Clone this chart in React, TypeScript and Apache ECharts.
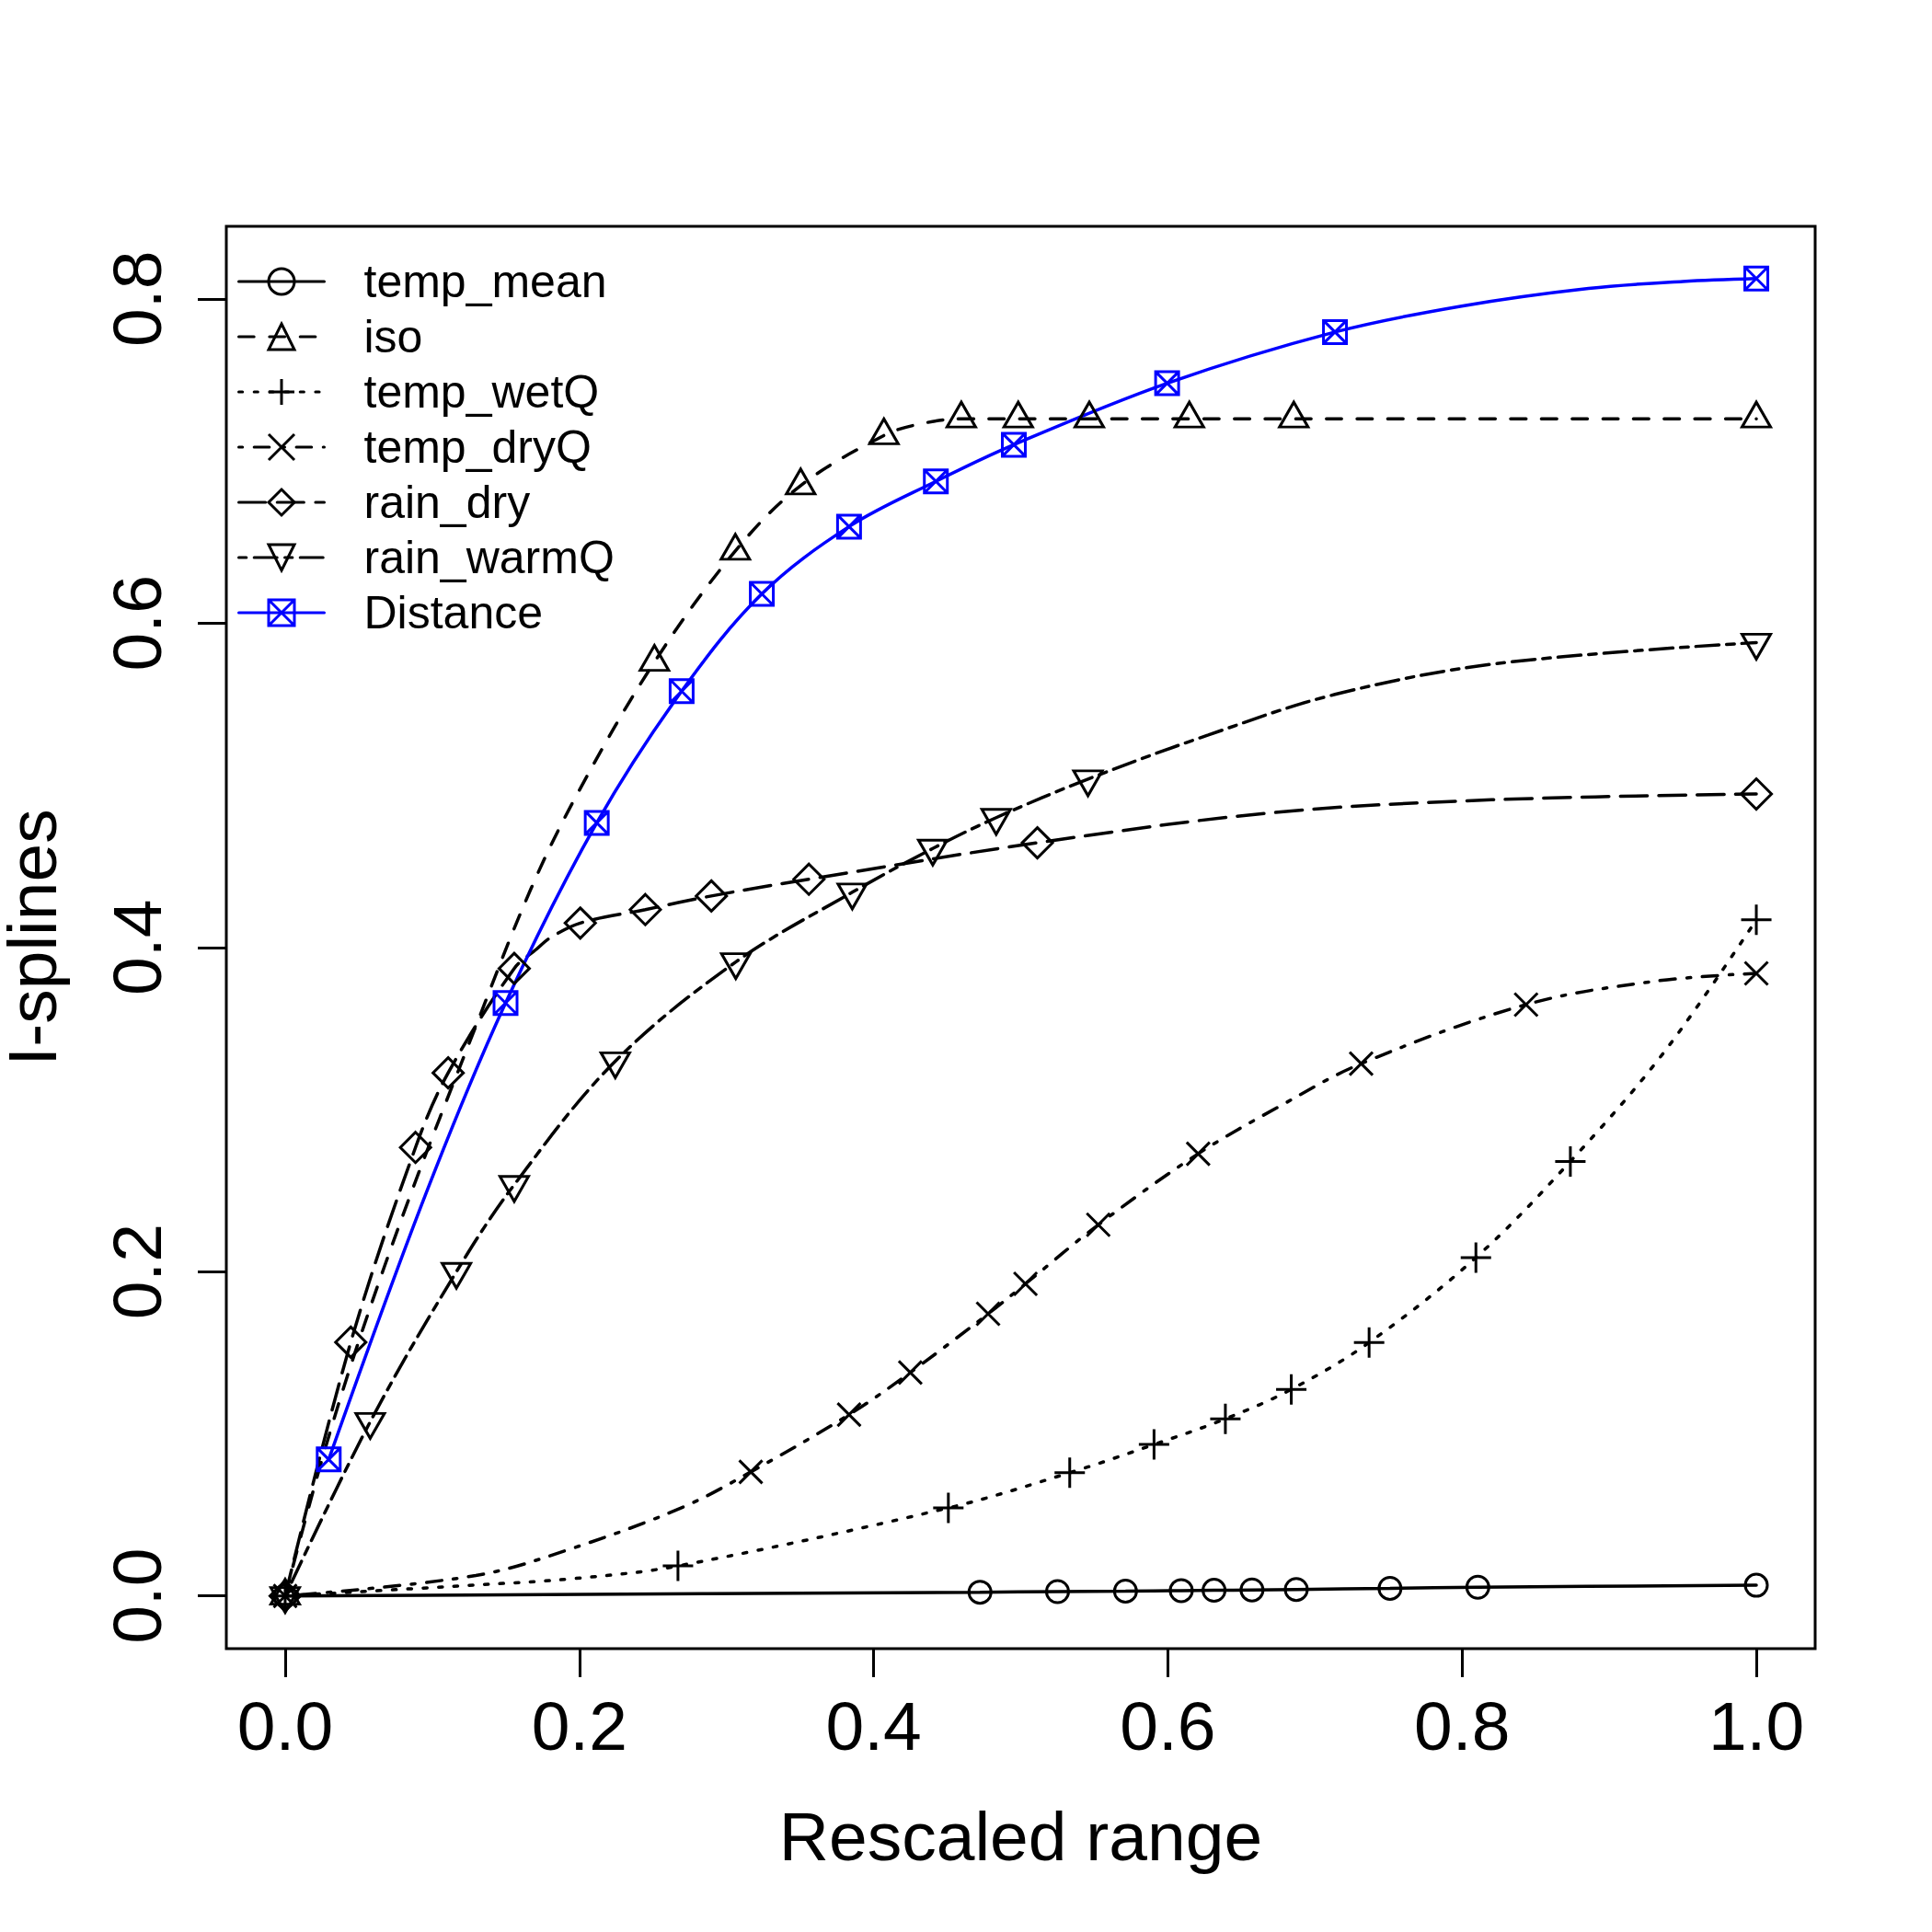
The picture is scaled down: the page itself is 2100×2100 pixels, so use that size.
import React, { useEffect, useRef } from "react";
import * as echarts from "echarts";

// ---------- data ----------
const xTicks = [0, 0.2, 0.4, 0.6, 0.8, 1.0];
const yTicks = [0, 0.2, 0.4, 0.6, 0.8];

const seriesNames = ["temp_mean", "iso", "temp_wetQ", "temp_dryQ", "rain_dry", "rain_warmQ", "Distance"];

// marker points
const tempMeanMarkers = [[0, 0], [0.4723, 0.0023], [0.525, 0.0027], [0.5712, 0.003], [0.6091, 0.0033], [0.6314, 0.0035], [0.6572, 0.0037], [0.6873, 0.004], [0.751, 0.0047], [0.8107, 0.0054], [1.0, 0.0066]];
const isoMarkers = [[0, 0], [0.251, 0.576], [0.306, 0.6445], [0.3504, 0.6848], [0.407, 0.7157], [0.4596, 0.726], [0.4983, 0.726], [0.5466, 0.726], [0.6146, 0.726], [0.6856, 0.726], [1.0, 0.726]];
const tempWetQMarkers = [[0, 0], [0.267, 0.0185], [0.4508, 0.0543], [0.5333, 0.076], [0.5906, 0.0934], [0.6391, 0.1092], [0.6839, 0.1274], [0.7368, 0.1563], [0.8094, 0.2087], [0.8736, 0.268], [1.0, 0.417]];
const tempDryQMarkers = [[0, 0], [0.3165, 0.0765], [0.3833, 0.1118], [0.4249, 0.1378], [0.4778, 0.174], [0.5032, 0.1925], [0.5527, 0.2289], [0.6206, 0.2727], [0.7314, 0.3283], [0.8435, 0.3647], [1.0, 0.384]];
const rainDryMarkers = [[0, 0], [0.0446, 0.1565], [0.0886, 0.2766], [0.1108, 0.3226], [0.1557, 0.387], [0.2006, 0.415], [0.2448, 0.4233], [0.2897, 0.4317], [0.356, 0.442], [0.5113, 0.4645], [1.0, 0.4946]];
const rainWarmQMarkers = [[0, 0], [0.0578, 0.1074], [0.1164, 0.2], [0.1557, 0.2536], [0.2244, 0.3298], [0.3063, 0.391], [0.3855, 0.434], [0.4402, 0.461], [0.4833, 0.48], [0.5457, 0.5038], [1.0, 0.588]];
const distanceMarkers = [[0.0296, 0.0842], [0.1498, 0.3657], [0.2118, 0.4768], [0.2695, 0.558], [0.324, 0.618], [0.3833, 0.6595], [0.4423, 0.6874], [0.4953, 0.71], [0.5995, 0.7479], [0.7136, 0.7795], [1.0, 0.8125]];

// extra points of the spline curves (no marker)
const tempMeanCurve: number[][] = [];
const isoCurve = [[0.025, 0.084], [0.05, 0.157], [0.085, 0.247], [0.126, 0.343], [0.167, 0.436], [0.2, 0.497], [0.43, 0.7225]];
const tempWetQCurve = [[0.13, 0.0068], [0.196, 0.0107], [0.937, 0.335]];
const tempDryQCurve = [[0.1296, 0.0126], [0.196, 0.0296], [0.2712, 0.0551], [0.676, 0.302], [0.93, 0.379]];
const rainDryCurve = [[0.171, 0.399], [0.18, 0.4058], [0.67, 0.483], [0.82, 0.491]];
const rainWarmQCurve = [[0.6275, 0.531], [0.7136, 0.556], [0.8234, 0.575]];
const distanceCurve = [[0.0952, 0.247], [0.7997, 0.7955], [0.886, 0.8064], [0.95, 0.8107]];

// ---------- styling ----------
const U = 4.17; // R line-type unit
const FONT = "'Liberation Sans', Arial, Helvetica, sans-serif";

const SYM = {
  circle: "path://M1,0A1,1,0,1,1,-1,0A1,1,0,1,1,1,0Z",
  triUp: "path://M0,-1.5551L1.3468,0.7776L-1.3468,0.7776Z",
  plus: "path://M0,-1L0,1M-1,0L1,0",
  cross: "path://M-1,-1L1,1M-1,1L1,-1",
  diamond: "path://M0,-1L1,0L0,1L-1,0Z",
  triDown: "path://M0,1.5551L1.3468,-0.7776L-1.3468,-0.7776Z",
  boxX: "path://M-1,-1L1,-1L1,1L-1,1ZM-1,-1L1,1M-1,1L1,-1",
};

function buildData(markers: number[][], curve: number[][]) {
  const items = [
    ...markers.map((p) => ({ value: p })),
    ...curve.map((p) => ({ value: p, symbol: "none" })),
  ];
  items.sort((a, b) => a.value[0] - b.value[0]);
  return items;
}

function makeSeries(
  name: string,
  markers: number[][],
  curve: number[][],
  symbol: string,
  size: number | number[],
  dash: any,
  color: string,
  offset: number[]
) {
  return {
    type: "line",
    name,
    data: buildData(markers, curve),
    smooth: 0.35,
    symbol,
    symbolSize: size,
    symbolOffset: offset,
    showSymbol: true,
    showAllSymbol: true,
    lineStyle: { color, width: 3.5, type: dash, cap: "round" },
    itemStyle: { color: "rgba(0,0,0,0)", borderColor: color, borderWidth: 3 },
    emphasis: { disabled: true },
    z: 2,
  };
}

export default function App() {
  const ref = useRef<HTMLDivElement>(null);

  useEffect(() => {
    if (!ref.current) return;
    const chart = echarts.init(ref.current, null, { renderer: "svg" });

    const series = [
      makeSeries(seriesNames[0], tempMeanMarkers, tempMeanCurve, SYM.circle, 24, "solid", "#000", [0, 0]),
      makeSeries(seriesNames[1], isoMarkers, isoCurve, SYM.triUp, [31, 27], [4 * U, 4 * U], "#000", [0, -4.5]),
      makeSeries(seriesNames[2], tempWetQMarkers, tempWetQCurve, SYM.plus, 33, [1 * U, 3 * U], "#000", [0, 0]),
      makeSeries(seriesNames[3], tempDryQMarkers, tempDryQCurve, SYM.cross, 25, [1 * U, 3 * U, 4 * U, 3 * U], "#000", [0, 0]),
      makeSeries(seriesNames[4], rainDryMarkers, rainDryCurve, SYM.diamond, 33, [7 * U, 3 * U], "#000", [0, 0]),
      makeSeries(seriesNames[5], rainWarmQMarkers, rainWarmQCurve, SYM.triDown, [31, 27], [2 * U, 2 * U, 6 * U, 2 * U], "#000", [0, 4.5]),
      makeSeries(seriesNames[6], distanceMarkers, distanceCurve, SYM.boxX, 25, "solid", "#0000ff", [0, 0]),
    ];

    const option: any = {
      animation: false,
      backgroundColor: "#ffffff",
      textStyle: { fontFamily: FONT, color: "#000" },
      grid: {
        left: 246,
        right: 127,
        top: 246,
        bottom: 308,
        show: true,
        borderColor: "#000",
        borderWidth: 3,
        backgroundColor: "transparent",
        containLabel: false,
        outerBoundsMode: "none",
      },
      xAxis: {
        type: "value",
        min: -0.04,
        max: 1.04,
        name: "Rescaled range",
        nameLocation: "middle",
        nameGap: 166,
        nameTextStyle: { fontSize: 75, color: "#000", fontFamily: FONT },
        axisLine: { show: false, onZero: false },
        splitLine: { show: false },
        axisTick: { show: true, length: 31, customValues: xTicks, lineStyle: { color: "#000", width: 3 } },
        axisLabel: {
          customValues: xTicks,
          fontSize: 75,
          color: "#000",
          fontFamily: FONT,
          margin: 46,
          formatter: (v: number) => v.toFixed(1),
        },
      },
      yAxis: {
        type: "value",
        min: -0.0325,
        max: 0.8447,
        name: "I-splines",
        nameLocation: "middle",
        nameGap: 183,
        nameTextStyle: { fontSize: 75, color: "#000", fontFamily: FONT, lineHeight: 56 },
        axisLine: { show: false, onZero: false },
        splitLine: { show: false },
        axisTick: { show: true, length: 31, customValues: yTicks, lineStyle: { color: "#000", width: 3 } },
        axisLabel: {
          customValues: yTicks,
          rotate: 90,
          fontSize: 75,
          color: "#000",
          fontFamily: FONT,
          margin: 60,
          formatter: (v: number) => v.toFixed(1),
        },
      },
      legend: {
        data: seriesNames,
        orient: "vertical",
        left: 258,
        top: 281,
        padding: 0,
        itemWidth: 93,
        itemHeight: 35,
        itemGap: 10,
        selectedMode: false,
        lineStyle: { width: 3 },
        itemStyle: { borderWidth: 3 },
        textStyle: { fontSize: 50, color: "#000", fontFamily: FONT, lineHeight: 50, padding: [0, 0, 0, 38] },
      },
      series,
    };

    chart.setOption(option);
    return () => chart.dispose();
  }, []);

  return (
    <div
      ref={ref}
      style={{ position: "absolute", left: 0, top: 0, width: 2100, height: 2100, background: "#fff" }}
    />
  );
}
